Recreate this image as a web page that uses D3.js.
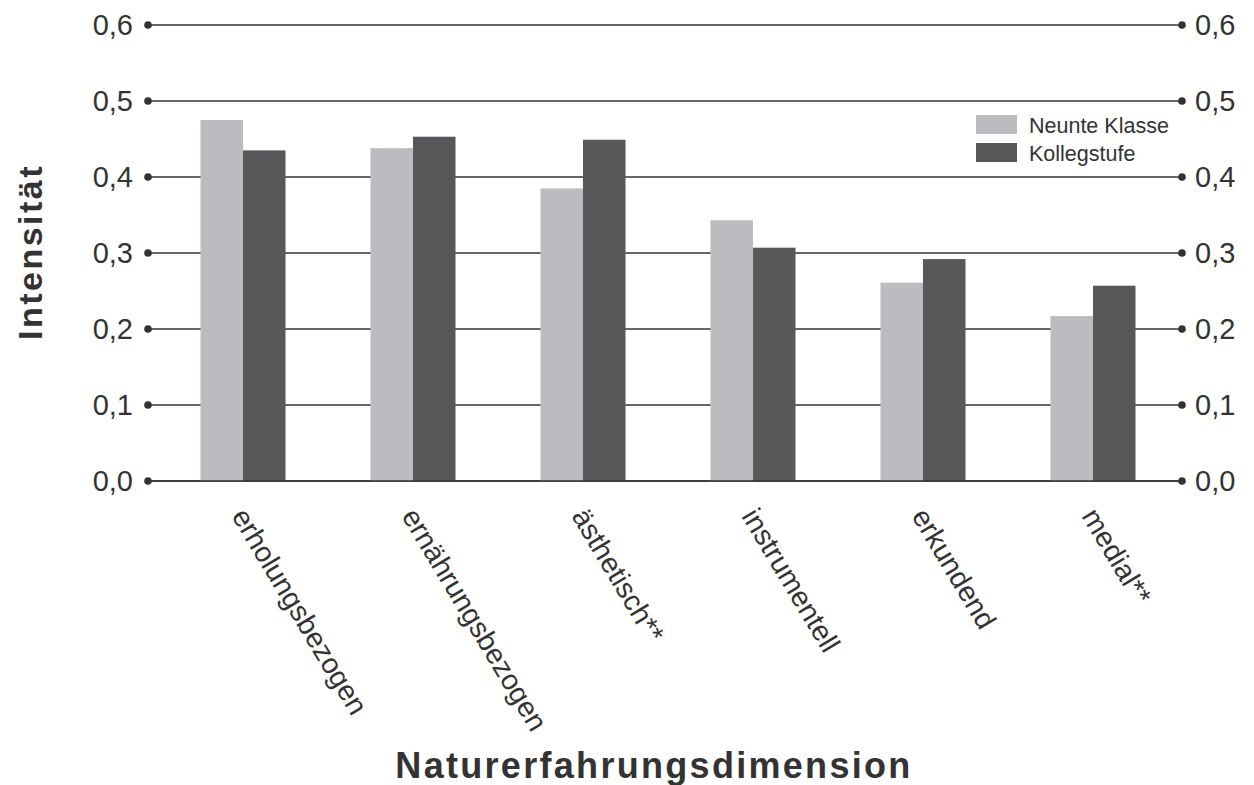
<!DOCTYPE html>
<html lang="de">
<head>
<meta charset="UTF-8">
<title>Naturerfahrungsdimension</title>
<script src="https://d3js.org/d3.v7.min.js"></script>
<style>
    body{ margin:0; background:#fff; }
    svg{ font-family: "Liberation Sans", Arial, sans-serif; }
</style>
</head>
<body>
<script>
    // data
    const categories = ["erholungsbezogen","ernährungsbezogen","ästhetisch**","instrumentell","erkundend","medial**"]
    const neunteKlasse = [0.475,0.438,0.385,0.343,0.261,0.217]
    const kollegstufe = [0.435,0.453,0.449,0.307,0.292,0.257]
    const seriesNames = ["Neunte Klasse","Kollegstufe"]
    const yTicks = [0,0.1,0.2,0.3,0.4,0.5,0.6]

    const width = 1254, height = 785
    const margin = {top:25,left:148,right:72,bottom:304}
    const colors = ["#bbbcbf","#58585a"]
    const ink = "#333333"

    const svg = d3.select("body").append("svg")
                    .attr("width",width).attr("height",height)

    const x = d3.scaleBand().domain(categories)
                .range([158,1178]).paddingInner(0.5).paddingOuter(0.25)
    const xs = d3.scaleBand().domain(seriesNames).range([0,x.bandwidth()])
    const y = d3.scaleLinear().domain([0,0.6]).range([height-margin.bottom,margin.top])

    const fmt = d => d3.format(".1f")(d).replace(".",",")

    // gridlines with dot ends
    const grid = svg.append("g")
    grid.selectAll("line").data(yTicks).join("line")
        .attr("x1",margin.left).attr("x2",width-margin.right)
        .attr("y1",d=>y(d)).attr("y2",d=>y(d))
        .attr("stroke",ink).attr("stroke-width",1.6)
    ;[margin.left,width-margin.right].forEach(cx=>{
        grid.append("g").selectAll("circle").data(yTicks).join("circle")
            .attr("cx",cx).attr("cy",d=>y(d)).attr("r",3.8).attr("fill",ink)
    })
    svg.append("g").selectAll("text").data(yTicks).join("text")
        .attr("x",margin.left-15).attr("y",d=>y(d)).attr("dy","0.36em")
        .attr("text-anchor","end").attr("font-size",29).attr("fill",ink)
        .text(fmt)
    svg.append("g").selectAll("text").data(yTicks).join("text")
        .attr("x",width-margin.right+13).attr("y",d=>y(d)).attr("dy","0.36em")
        .attr("text-anchor","start").attr("font-size",29).attr("fill",ink)
        .text(fmt)

    // bars
    const series = [neunteKlasse,kollegstufe]
    series.forEach((vals,si)=>{
        svg.append("g").selectAll("rect").data(vals).join("rect")
            .attr("x",(d,i)=>x(categories[i])+xs(seriesNames[si]))
            .attr("y",d=>y(d))
            .attr("width",xs.bandwidth())
            .attr("height",d=>y(0)-y(d))
            .attr("fill",colors[si])
    })
    // baseline over bars
    svg.append("line").attr("x1",margin.left).attr("x2",width-margin.right)
        .attr("y1",y(0)).attr("y2",y(0)).attr("stroke",ink).attr("stroke-width",1.6)

    // category labels
    svg.append("g").selectAll("text").data(categories).join("text")
        .attr("transform",d=>`translate(${x(d)+x.bandwidth()/2-12},${y(0)+35}) rotate(59)`)
        .attr("font-size",28.5).attr("fill",ink)
        .text(d=>d)

    // axis titles
    svg.append("text").attr("x",654).attr("y",778)
        .attr("text-anchor","middle").attr("font-size",36).attr("font-weight","bold")
        .attr("letter-spacing",2.3).attr("fill",ink)
        .text("Naturerfahrungsdimension")
    svg.append("text").attr("transform","translate(42,252) rotate(-90)")
        .attr("text-anchor","middle").attr("font-size",34).attr("font-weight","bold")
        .attr("letter-spacing",2.5).attr("fill",ink)
        .text("Intensität")

    // legend
    const legend = svg.append("g").attr("transform","translate(976,115)")
    seriesNames.forEach((s,i)=>{
        legend.append("rect").attr("x",0).attr("y",i*28).attr("width",41).attr("height",19)
            .attr("fill",colors[i])
        legend.append("text").attr("x",53).attr("y",i*28+10).attr("dy","0.36em")
            .attr("font-size",21.5).attr("fill",ink).text(s)
    })
</script>
</body>
</html>
